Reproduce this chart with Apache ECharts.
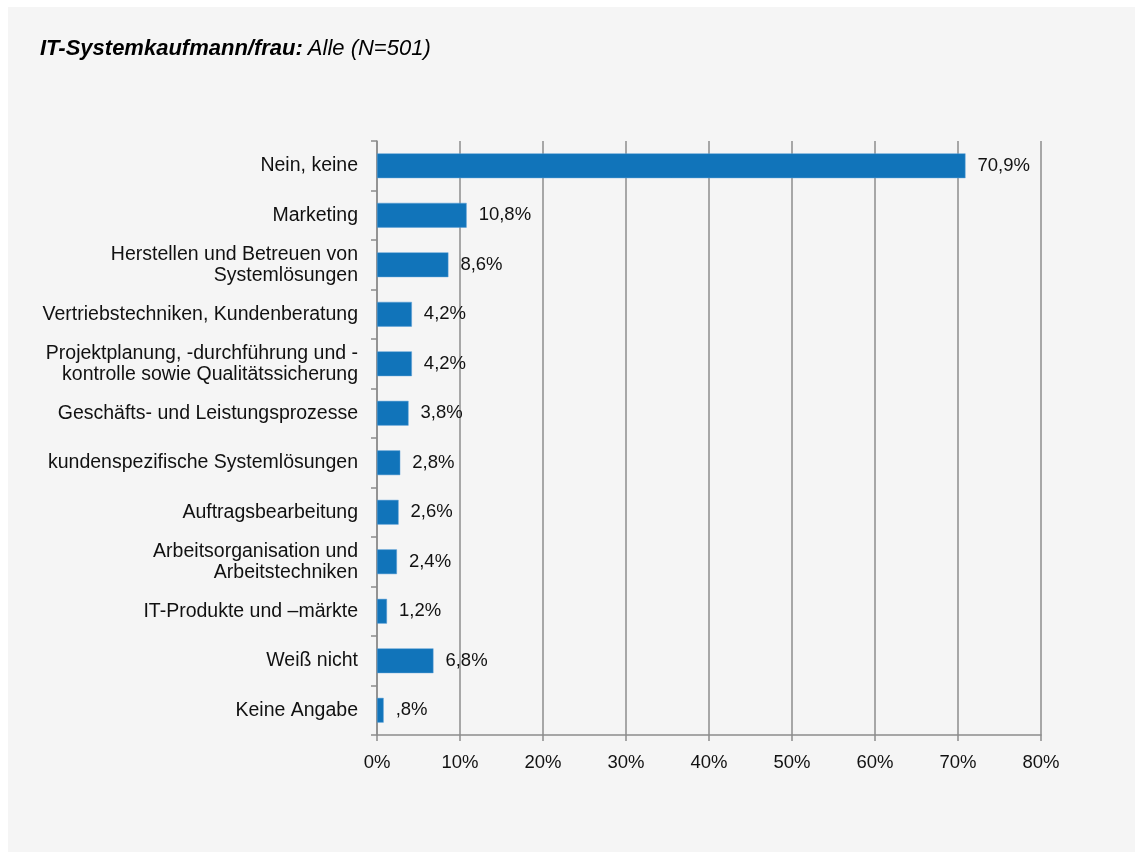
<!DOCTYPE html>
<html><head><meta charset="utf-8">
<script src="https://cdn.jsdelivr.net/npm/echarts@6/dist/echarts.min.js"></script>
<style>
html,body{margin:0;padding:0;background:#ffffff;}
#c{position:absolute;left:8px;top:7px;width:1127px;height:845px;background:#f5f5f5;}
</style></head>
<body><div id="c"></div>
<script>
const categories = [
  'Nein, keine',
  'Marketing',
  'Herstellen und Betreuen von\nSystemlösungen',
  'Vertriebstechniken, Kundenberatung',
  'Projektplanung, -durchführung und -\nkontrolle sowie Qualitätssicherung',
  'Geschäfts- und Leistungsprozesse',
  'kundenspezifische Systemlösungen',
  'Auftragsbearbeitung',
  'Arbeitsorganisation und\nArbeitstechniken',
  'IT-Produkte und –märkte',
  'Weiß nicht',
  'Keine Angabe'
];
const values = [70.9, 10.8, 8.6, 4.2, 4.2, 3.8, 2.8, 2.6, 2.4, 1.2, 6.8, 0.8];
const xTicks = [0, 10, 20, 30, 40, 50, 60, 70, 80];

function fmt(v){
  let s = v.toFixed(1).replace('.', ',');
  if (s.startsWith('0,')) s = s.slice(1);
  return s + '%';
}

const chart = echarts.init(document.getElementById('c'), null, {renderer:'canvas'});
const font = 'Liberation Sans, Arial, sans-serif';
chart.setOption({
  backgroundColor: '#f5f5f5',
  animation: false,
  title: {
    left: 27, top: 26,
    text: '{b|IT-Systemkaufmann/frau:} {i|Alle (N=501)}',
    textStyle: {
      fontWeight: 'normal',
      rich: {
        b: {fontFamily: font, fontSize: 22, fontWeight: 'bold', fontStyle: 'italic', color: '#000'},
        i: {fontFamily: font, fontSize: 22, fontWeight: 'normal', fontStyle: 'italic', color: '#000'}
      }
    }
  },
  grid: {left: 369, top: 134, width: 664, height: 594, containLabel: false},
  xAxis: {
    type: 'value', min: xTicks[0], max: xTicks[xTicks.length-1], interval: 10,
    axisLine: {show: true, lineStyle: {color: '#8c8c8c', width: 1.5}},
    axisTick: {show: true, length: 6, lineStyle: {color: '#8c8c8c', width: 1.5}},
    splitLine: {show: true, lineStyle: {color: '#8c8c8c', width: 1.5}},
    axisLabel: {formatter: v => v + '%', fontFamily: font, fontSize: 18.5, color: '#111', margin: 18}
  },
  yAxis: {
    type: 'category', data: categories, inverse: true,
    axisLine: {show: true, lineStyle: {color: '#8c8c8c', width: 1.5}},
    axisTick: {show: true, length: 6, lineStyle: {color: '#8c8c8c', width: 1.5}},
    axisLabel: {fontFamily: font, fontSize: 19.5, color: '#111', margin: 19, align: 'right', lineHeight: 21, padding: [3, 0, 0, 0]}
  },
  series: [{
    type: 'bar', data: values, barWidth: '50%',
    itemStyle: {color: '#1174ba', borderColor: '#5a9fd6', borderWidth: 0.5},
    label: {show: true, position: 'right', distance: 12, formatter: p => fmt(p.value),
      fontFamily: font, fontSize: 18.5, color: '#111', padding: [3, 0, 0, 0]}
  }]
});
</script></body></html>
